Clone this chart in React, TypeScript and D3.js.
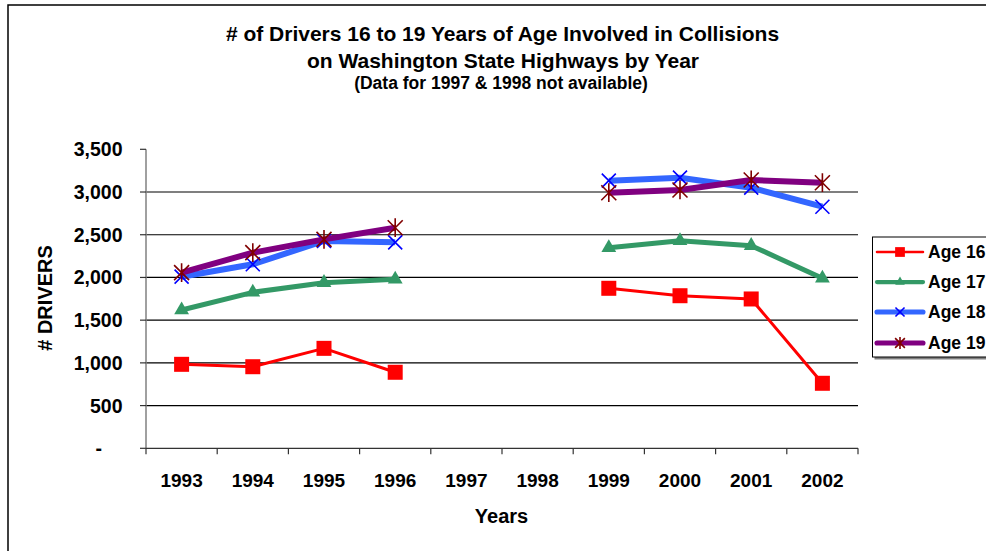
import React from 'react';
import * as d3 from 'd3';

const years = ['1993', '1994', '1995', '1996', '1997', '1998', '1999', '2000', '2001', '2002'];
const age16: (number | null)[] = [983, 955, 1170, 890, null, null, 1873, 1786, 1748, 761];
const age17: (number | null)[] = [1619, 1826, 1939, 1978, null, null, 2348, 2430, 2372, 1990];
const age18: (number | null)[] = [2009, 2154, 2427, 2411, null, null, 3133, 3168, 3051, 2828];
const age19: (number | null)[] = [2056, 2290, 2446, 2582, null, null, 2992, 3024, 3141, 3109];
const seriesNames = ['Age 16', 'Age 17', 'Age 18', 'Age 19'];
const yTicks = [0, 500, 1000, 1500, 2000, 2500, 3000, 3500];

const titleLines = [
  '# of Drivers 16 to 19 Years of Age Involved in Collisions',
  'on Washington State Highways by Year',
];
const subtitle = '(Data for 1997 & 1998 not available)';

const seriesValues = [age16, age17, age18, age19];
const styles = [
  { line: '#FF0000', width: 3, marker: 'square', mColor: '#FF0000' },
  { line: '#339966', width: 5, marker: 'triangle', mColor: '#339966' },
  { line: '#3366FF', width: 6, marker: 'x', mColor: '#0000FF' },
  { line: '#800080', width: 6, marker: 'star', mColor: '#800000' },
];

const FONT = '"Liberation Sans", Arial, Helvetica, sans-serif';

function Marker({ type, color, x, y, s = 1 }: { type: string; color: string; x: number; y: number; s?: number }) {
  if (type === 'square') {
    const h = 7.5 * s;
    return <rect x={x - h} y={y - h} width={2 * h} height={2 * h} fill={color} />;
  }
  if (type === 'triangle') {
    const p = d3.symbol().type(d3.symbolTriangle).size(95 * s * s)();
    return <path d={p || ''} transform={`translate(${x},${y})`} fill={color} />;
  }
  if (type === 'x') {
    const h = 7 * s;
    return (
      <path
        d={`M${x - h},${y - h}L${x + h},${y + h}M${x - h},${y + h}L${x + h},${y - h}`}
        stroke={color}
        strokeWidth={1.6}
        fill="none"
      />
    );
  }
  const h = 7.5 * s;
  return (
    <path
      d={`M${x - h},${y - h}L${x + h},${y + h}M${x - h},${y + h}L${x + h},${y - h}M${x},${y - h * 1.25}L${x},${y + h * 1.25}`}
      stroke={color}
      strokeWidth={1.6}
      fill="none"
    />
  );
}

export default function App() {
  const W = 986;
  const H = 551;
  const left = 146;
  const right = 858;
  const top = 149.3;
  const bottom = 448.3;

  const x = d3.scaleBand<string>().domain(years).range([left, right]);
  const y = d3.scaleLinear().domain([0, 3500]).range([bottom, top]);
  const cx = (i: number) => (x(years[i]) as number) + x.bandwidth() / 2;

  const lineGen = d3
    .line<number | null>()
    .defined((d) => d != null)
    .x((_, i) => cx(i))
    .y((d) => y(d as number));

  const fmt = d3.format(',');
  const legendRows = [252, 282, 312, 343];

  return (
    <svg width={W} height={H} style={{ position: 'absolute', left: 0, top: 0, background: '#fff' }} fontFamily={FONT}>
      <rect x={0} y={0} width={W} height={H} fill="#fff" />
      {/* outer frame */}
      <rect x={8} y={5} width={1100} height={700} fill="none" stroke="#000" strokeWidth={1.5} />

      {/* title */}
      <text x={502.5} y={41} textAnchor="middle" fontSize={21} fontWeight="bold">{titleLines[0]}</text>
      <text x={503} y={68} textAnchor="middle" fontSize={21} fontWeight="bold">{titleLines[1]}</text>
      <text x={501} y={89} textAnchor="middle" fontSize={17.5} fontWeight="bold">{subtitle}</text>

      {/* gridlines */}
      {yTicks.filter((t) => t > 0 && t < 3500).map((t) => (
        <line key={t} x1={left} x2={right} y1={y(t)} y2={y(t)} stroke="#000" strokeWidth={1.2} />
      ))}

      {/* axes */}
      <line x1={left} x2={left} y1={top} y2={bottom} stroke="#808080" strokeWidth={1.5} />
      <line x1={left} x2={right} y1={bottom} y2={bottom} stroke="#333" strokeWidth={1.3} />
      {yTicks.map((t) => (
        <g key={t}>
          <line x1={left - 6} x2={left} y1={y(t)} y2={y(t)} stroke="#333" strokeWidth={1.2} />
          <text
            x={t === 0 ? 102 : 122.5}
            y={y(t)}
            dy="0.36em"
            textAnchor="end"
            fontSize={19.5}
            fontWeight="bold"
          >
            {t === 0 ? '-' : fmt(t)}
          </text>
        </g>
      ))}
      {d3.range(years.length + 1).map((i) => {
        const xx = left + i * x.step();
        return <line key={i} x1={xx} x2={xx} y1={bottom} y2={bottom + 6} stroke="#333" strokeWidth={1.2} />;
      })}
      {years.map((yr, i) => (
        <text key={yr} x={cx(i)} y={486.5} textAnchor="middle" fontSize={19} fontWeight="bold">{yr}</text>
      ))}

      {/* axis titles */}
      <text x={501.5} y={523.3} textAnchor="middle" fontSize={20} fontWeight="bold">Years</text>
      <text
        transform="translate(51.5,298) rotate(-90)"
        textAnchor="middle"
        fontSize={20}
        fontWeight="bold"
      >
        # DRIVERS
      </text>

      {/* series */}
      {seriesValues.map((vals, si) => (
        <g key={si}>
          <path d={lineGen(vals) || ''} fill="none" stroke={styles[si].line} strokeWidth={styles[si].width} strokeLinejoin="round" />
          {vals.map((v, i) =>
            v == null ? null : (
              <Marker key={i} type={styles[si].marker} color={styles[si].mColor} x={cx(i)} y={y(v)} />
            )
          )}
        </g>
      ))}

      {/* legend */}
      <rect x={874.5} y={239.5} width={140} height={120} fill="#808080" />
      <rect x={872.5} y={237} width={140} height={120} fill="#fff" stroke="#000" strokeWidth={1} />
      {seriesNames.map((name, si) => (
        <g key={name}>
          <line x1={877} x2={923} y1={legendRows[si]} y2={legendRows[si]} stroke={styles[si].line} strokeWidth={styles[si].width * 0.85} strokeLinecap="round" />
          <Marker type={styles[si].marker} color={styles[si].mColor} x={900} y={legendRows[si]} s={0.65} />
          <text x={928} y={legendRows[si]} dy="0.36em" fontSize={17.5} fontWeight="bold">{name}</text>
        </g>
      ))}
    </svg>
  );
}
